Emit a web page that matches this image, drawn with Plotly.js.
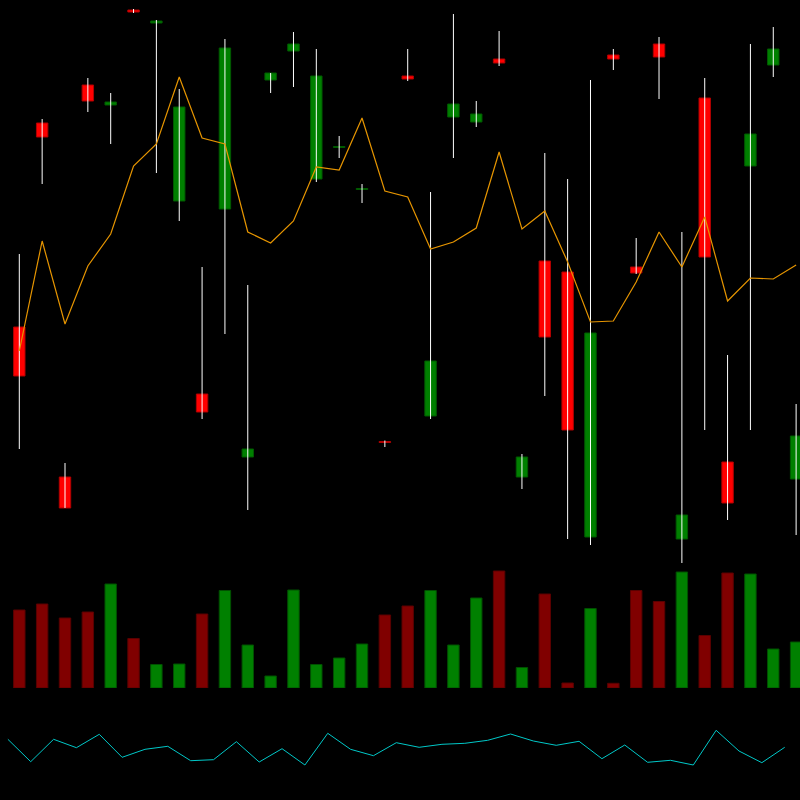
<!DOCTYPE html>
<html>
<head>
<meta charset="utf-8">
<script src="https://cdn.plot.ly/plotly-3.0.1.min.js"></script>
<style>html,body{margin:0;padding:0;background:#000;}#chart{width:800px;height:800px;}</style>
</head>
<body>
<div id="chart"></div>
<script>
const opens  = [33.3,53.7,18.3,57.5,55.5,65.0,63.7,45.9,26.6,45.1,20.3,58.0,60.9,48.1,51.25,47.05,21.85,58.4,24.4,54.3,53.8,60.1,18.3,39.9,38.8,12.3,60.5,39.3,61.6,12.1,56.2,19.8,49.4,59.5,18.1];
const highs  = [40.6,54.1,19.7,58.2,56.7,65.1,64.0,57.1,39.3,62.1,37.5,58.7,62.8,61.1,52.4,47.6,21.95,61.1,46.8,64.6,55.9,62.9,20.6,50.7,48.1,58.0,61.1,42.2,62.3,42.8,58.2,30.5,61.6,63.3,25.6];
const lows   = [21.1,47.6,15.2,54.8,51.6,64.7,48.7,43.9,24.1,32.6,15.0,56.7,57.3,47.8,50.2,45.7,21.3,57.9,24.1,50.2,53.3,59.4,17.1,26.4,12.1,11.5,59.0,38.6,56.1,9.7,23.0,14.0,23.0,58.3,12.5];
const closes = [28.4,52.3,15.2,55.9,55.8,64.8,63.9,55.3,24.8,61.2,21.1,58.7,61.6,58.4,51.35,47.15,21.75,58.1,29.9,55.6,54.6,59.7,20.3,32.3,23.0,32.7,60.1,38.7,60.3,14.5,40.3,15.7,52.6,61.1,22.4];
const volumes = [78,84,70,76,104,49.5,23.5,24,74,97.5,43,12,98,23.5,30,44,73,82,97.5,43,90,117,20.5,94,5,79.5,4.7,97.5,86.5,116,52.5,115,114,39,46];
const avgLine = [30.9,41.9,33.6,39.4,42.6,49.4,51.6,58.3,52.2,51.6,42.8,41.7,43.9,49.3,49.0,54.2,46.9,46.3,41.1,41.8,43.2,50.8,43.1,44.9,39.8,33.8,33.9,37.8,42.8,39.3,44.3,35.9,38.2,38.1,39.5];
const oscLine = [60.7,38.3,60.7,52.3,65.7,42.7,50.7,53.7,39.3,40.3,58.3,38,51.3,35,66.7,50.7,44.3,57.3,52.7,55.7,56.7,59.7,66,59,54.7,58.7,41.3,55,37.7,39.7,35,69.7,49,37.3,52.7];

const idx = opens.map((_, i) => i);
const up = opens.map((o, i) => closes[i] >= o);

// wicks
const wx = [], wy = [];
idx.forEach(i => { wx.push(i, i, null); wy.push(highs[i], lows[i], null); });

const traces = [
  {x: wx, y: wy, type: 'scatter', mode: 'lines', line: {color: '#ffffff', width: 1}, xaxis: 'x', yaxis: 'y', hoverinfo: 'skip'},
  {x: idx, y: idx.map(i => Math.abs(closes[i] - opens[i])), base: idx.map(i => Math.min(opens[i], closes[i])),
   type: 'bar', width: 0.5, xaxis: 'x', yaxis: 'y',
   marker: {color: up.map(u => u ? '#008000' : '#ff0000'), line: {color: up.map(u => u ? '#005a00' : '#b00000'), width: 1}}},
  {x: idx, y: avgLine, type: 'scatter', mode: 'lines', line: {color: '#e69500', width: 1.2}, xaxis: 'x', yaxis: 'y'},
  {x: idx, y: volumes, type: 'bar', width: 0.5, xaxis: 'x', yaxis: 'y2',
   marker: {color: up.map(u => u ? '#008000' : '#800000'), line: {color: up.map(u => u ? '#005000' : '#5a0000'), width: 1}}},
  {x: idx.map(i => i - 0.5), y: oscLine, type: 'scatter', mode: 'lines', line: {color: '#00c8c8', width: 1}, xaxis: 'x', yaxis: 'y3'}
];

const hidden = {visible: false, showgrid: false, zeroline: false, fixedrange: true};
const layout = {
  width: 800, height: 800,
  margin: {l: 0, r: 0, t: 0, b: 0, pad: 0},
  paper_bgcolor: '#000000', plot_bgcolor: 'rgba(0,0,0,0)',
  showlegend: false, barmode: 'overlay', hovermode: false,
  xaxis: Object.assign({}, hidden, {range: [-0.845, 34.17]}),
  yaxis: Object.assign({}, hidden, {domain: [0.25, 1], range: [6, 66]}),
  yaxis2: Object.assign({}, hidden, {domain: [0.14, 0.30], range: [0, 128]}),
  yaxis3: Object.assign({}, hidden, {domain: [0, 0.125], range: [0, 100]})
};
Plotly.newPlot('chart', traces, layout, {staticPlot: true, displayModeBar: false});
</script>
</body>
</html>
